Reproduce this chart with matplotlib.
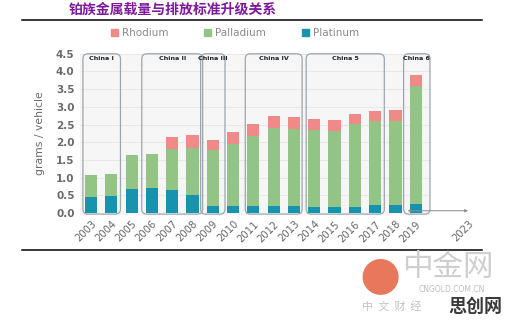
import matplotlib
matplotlib.use("Agg")
import matplotlib.pyplot as plt
from matplotlib.patches import FancyBboxPatch, Patch
import numpy as np

years = ["2003", "2004", "2005", "2006", "2007", "2008", "2009", "2010", "2011",
         "2012", "2013", "2014", "2015", "2016", "2017", "2018", "2019"]
platinum = [0.44, 0.47, 0.68, 0.70, 0.64, 0.51, 0.21, 0.19, 0.19,
            0.19, 0.20, 0.17, 0.17, 0.18, 0.22, 0.23, 0.25]
palladium = [0.64, 0.64, 0.95, 0.98, 1.17, 1.33, 1.58, 1.76, 2.00,
             2.21, 2.17, 2.17, 2.16, 2.34, 2.39, 2.38, 3.33]
rhodium = [0.00, 0.00, 0.00, 0.00, 0.33, 0.37, 0.28, 0.33, 0.33,
           0.35, 0.34, 0.32, 0.31, 0.28, 0.28, 0.29, 0.33]
extra_tick = "2023"
y_ticks = [0.0, 0.5, 1.0, 1.5, 2.0, 2.5, 3.0, 3.5, 4.0, 4.5]
# standards: label, first year index, last year index
standards = [("China I", 0, 1), ("China II", 3, 5), ("China III", 6, 6),
             ("China IV", 8, 10), ("China 5", 11, 14), ("China 6", 16, 16)]

c_rh = "#f08a88"
c_pd = "#92c486"
c_pt = "#1893ae"

plt.rcParams['font.family'] = ['DejaVu Sans']
fig = plt.figure(figsize=(5.10, 3.23), dpi=100)
ax = fig.add_axes([0.157, 0.335, 0.784, 0.504])

x = np.arange(len(years))
xmax = 19.16
ax.set_xlim(-0.54, xmax)
ax.set_ylim(-0.05, 4.55)

# background span and grid
span_right = 16.7
ax.axvspan(-0.54, span_right, ymin=0, ymax=(4.5 + 0.05) / 4.6, color="#f6f6f6", zorder=0, lw=0)
for yv in y_ticks[1:]:
    ax.hlines(yv, -0.54, span_right, color="#e6e6e6", lw=0.6, zorder=0.5)

w = 0.6
pt = np.array(platinum)
pd_ = np.array(palladium)
rh = np.array(rhodium)
ax.bar(x, pt, width=w, color=c_pt, zorder=2)
ax.bar(x, pd_, width=w, bottom=pt, color=c_pd, zorder=2)
ax.bar(x, rh, width=w, bottom=pt + pd_, color=c_rh, zorder=2)

# standard boxes
pads = {"China I": (0.4, 0.45), "China II": (0.5, 0.5), "China III": (0.6, 0.6),
        "China IV": (0.4, 0.4), "China 5": (0.4, 0.45), "China 6": (0.6, 0.7)}
asp = (1 / 35.4) / (1 / 20.3)
for lab, a, b in standards:
    pl, pr = pads[lab]
    x0 = a - pl
    x1 = b + pr
    box = FancyBboxPatch((x0, -0.03), x1 - x0, 4.53, boxstyle="round,pad=0,rounding_size=0.25",
                         mutation_aspect=asp, fill=False, ec="#9aa6ae", lw=0.9, zorder=3)
    ax.add_patch(box)
    ax.text((x0 + x1) / 2, 4.36, lab, ha="center", va="center", fontsize=4.6,
            fontweight="bold", color="#222222", zorder=4)

# arrow to 2023
ax.annotate("", xy=(18.57, 0.065), xytext=(15.6, 0.065),
            arrowprops=dict(arrowstyle="<|-|>", color="#8a8a8a", lw=0.7,
                            mutation_scale=4, shrinkA=0, shrinkB=0), zorder=5)

ax.set_xticks(list(x) + [18.6])
ax.set_xticklabels(years + [extra_tick], rotation=45, ha="right", rotation_mode="anchor",
                   fontsize=7.2, color="#666666")
ax.set_yticks(y_ticks)
ax.set_yticklabels([f"{v:.1f}" for v in y_ticks], fontsize=7.5, color="#6a6a6a", fontweight="bold")
ax.tick_params(length=0, pad=4)
ax.tick_params(axis="x", pad=3)
for s in ax.spines.values():
    s.set_visible(False)
ax.set_ylabel("grams / vehicle", fontsize=7.8, color="#6a6a6a", labelpad=8)

handles = [Patch(color=c_rh, label="Rhodium"), Patch(color=c_pd, label="Palladium"),
           Patch(color=c_pt, label="Platinum")]
fig.legend(handles=handles, loc="center", bbox_to_anchor=(235 / 510, 1 - 33 / 323), ncol=3,
           frameon=False, fontsize=7.5, handlelength=0.7, handleheight=0.7,
           handletextpad=0.4, columnspacing=3.4, labelcolor="#8a8a8a")

# title and rules
fig.text(173 / 510, 1 - 10 / 323, "铂族金属载量与排放标准升级关系", ha="center", va="center",
         fontsize=10, fontweight="bold", color="#7d1a9c", family=["Noto Sans CJK SC", "DejaVu Sans"])
fig.add_artist(plt.Line2D([22 / 510, 482 / 510], [1 - 20 / 323] * 2, color="black", lw=1.1))
fig.add_artist(plt.Line2D([22 / 510, 482 / 510], [1 - 250 / 323] * 2, color="black", lw=1.1))

# watermark
cjk = ["Noto Sans CJK SC", "DejaVu Sans"]
fig.text(380 / 510, 1 - 276 / 323, "●", ha="center", va="center", fontsize=34, color="#e8785c",
         family=["DejaVu Sans"])
fig.text(448 / 510, 1 - 267 / 323, "中金网", ha="center", va="center", fontsize=22,
         color="#cfcfcf", family=cjk)
fig.text(452 / 510, 1 - 290 / 323, "CNGOLD.COM.CN", ha="center", va="center", fontsize=5.5,
         color="#bdbdbd")
fig.text(392 / 510, 1 - 306 / 323, "中  文  财  经", ha="center", va="center", fontsize=8,
         color="#c4c4c4", family=cjk)
fig.text(475 / 510, 1 - 306 / 323, "思创网", ha="center", va="center", fontsize=13,
         fontweight="bold", color="#3a3a3a", family=cjk)

fig.savefig("out.png", dpi=100)
